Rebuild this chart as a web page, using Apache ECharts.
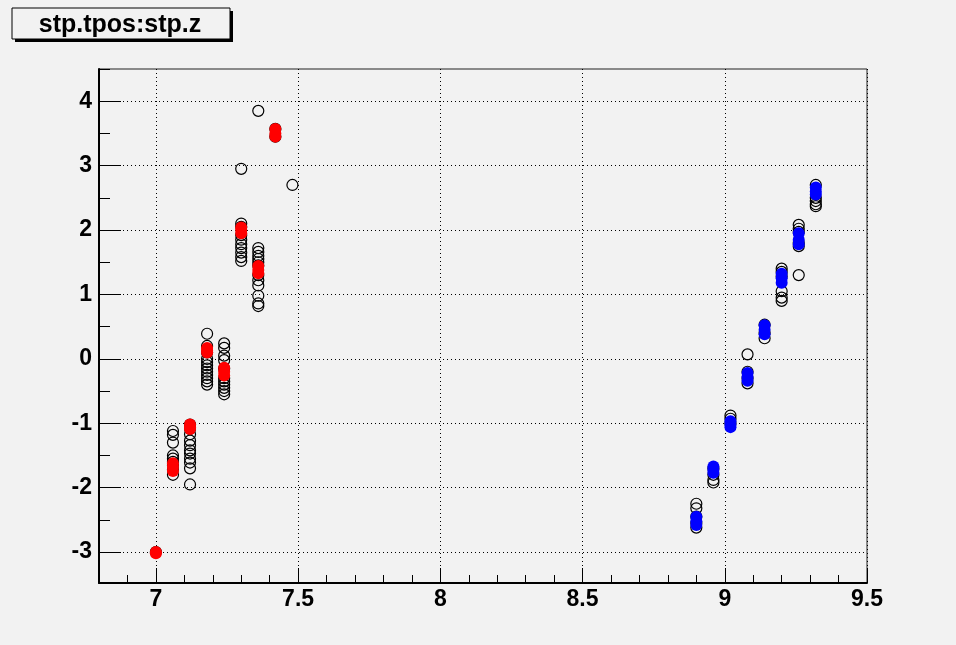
<!DOCTYPE html>
<html><head><meta charset="utf-8">
<script src="https://cdn.jsdelivr.net/npm/echarts@6/dist/echarts.min.js"></script>
<style>html,body{margin:0;padding:0;background:#f2f2f2}#c{width:956px;height:645px}</style>
</head><body><div id="c"></div>
<script>
// ---- data ----
const titleText = 'stp.tpos:stp.z';
const xTicks = [7, 7.5, 8, 8.5, 9, 9.5];
const yTicks = [-3, -2, -1, 0, 1, 2, 3, 4];
const xRange = [6.8, 9.5];
const yRange = [-3.48, 4.5];

const leftX = [7.00, 7.06, 7.12, 7.18, 7.24, 7.30, 7.36, 7.42, 7.48];
const leftOpenY = [
  [-3.0],
  [-1.12, -1.18, -1.30, -1.50, -1.55, -1.60, -1.65, -1.72, -1.80],
  [-1.02, -1.09, -1.17, -1.27, -1.34, -1.42, -1.47, -1.55, -1.61, -1.70, -1.95],
  [0.39, 0.20, 0.10, 0.0, -0.05, -0.10, -0.15, -0.20, -0.25, -0.30, -0.35, -0.40],
  [0.24, 0.17, 0.05, -0.02, -0.15, -0.30, -0.35, -0.40, -0.45, -0.50, -0.55],
  [2.95, 2.10, 2.05, 1.92, 1.85, 1.78, 1.72, 1.65, 1.58, 1.52],
  [3.85, 1.72, 1.66, 1.60, 1.55, 1.50, 1.45, 1.30, 1.22, 1.14, 0.98, 0.86, 0.82],
  [3.57, 3.45],
  [2.70]
];
const leftRedY = [
  [-3.0, -3.02],
  [-1.62, -1.68, -1.74],
  [-1.02, -1.06, -1.09],
  [0.17, 0.13, 0.10],
  [-0.14, -0.20, -0.26],
  [2.04, 2.00, 1.95],
  [1.44, 1.38, 1.33],
  [3.57, 3.50, 3.45],
  []
];

const rightX = [8.90, 8.96, 9.02, 9.08, 9.14, 9.20, 9.26, 9.32];
const rightOpenY = [
  [-2.25, -2.32, -2.45, -2.55, -2.62],
  [-1.70, -1.80, -1.88, -1.92],
  [-0.88, -0.93, -1.00],
  [0.07, -0.20, -0.30, -0.38],
  [0.53, 0.40, 0.32],
  [1.40, 1.35, 1.28, 1.05, 0.95, 0.90],
  [2.08, 2.02, 1.97, 1.80, 1.75, 1.30],
  [2.70, 2.50, 2.45, 2.40, 2.37]
];
const rightBlueY = [
  [-2.45, -2.52, -2.58],
  [-1.67, -1.72, -1.77],
  [-0.97, -1.02, -1.06],
  [-0.22, -0.28, -0.34],
  [0.52, 0.45, 0.38],
  [1.32, 1.25, 1.18],
  [1.95, 1.85, 1.78],
  [2.66, 2.60, 2.55]
];

// ---- build ----
function pairs(xs, ys) {
  const out = [];
  xs.forEach((x, i) => ys[i].forEach(y => out.push([x, y])));
  return out;
}
const openPts = pairs(leftX, leftOpenY).concat(pairs(rightX, rightOpenY));
const redPts = pairs(leftX, leftRedY);
const bluePts = pairs(rightX, rightBlueY);

const xMinor = [];
for (let i = Math.round(xRange[0] * 10); i <= Math.round(xRange[1] * 10); i++) xMinor.push(i / 10);
const yMinor = [];
yTicks.forEach(v => { const m = v + 0.5; if (m >= yRange[0] && m <= yRange[1]) yMinor.push(m); });

const FONT = '"Liberation Sans", Arial, Helvetica, sans-serif';
const gridPos = { left: 99, top: 69, right: 89, bottom: 62 };
const dotted = { type: [1, 3], color: '#000', width: 1 };

const chart = echarts.init(document.getElementById('c'));
chart.setOption({
  animation: false,
  backgroundColor: '#f2f2f2',
  grid: [
    Object.assign({ show: true, borderColor: '#222', borderWidth: 1, backgroundColor: 'transparent', containLabel: false }, gridPos),
    Object.assign({ show: false, containLabel: false }, gridPos)
  ],
  xAxis: [
    {
      type: 'value', gridIndex: 0, min: xRange[0], max: xRange[1], position: 'bottom',
      axisLine: { show: true, onZero: false, lineStyle: { color: '#000', width: 2 } },
      axisTick: { show: true, inside: true, length: 15, customValues: xTicks, lineStyle: { color: '#000', width: 1 } },
      axisLabel: { show: true, customValues: xTicks, margin: 5, color: '#000', fontSize: 23, fontWeight: 'bold', fontFamily: FONT, formatter: v => String(v) },
      splitLine: { show: true, lineStyle: dotted }
    },
    {
      type: 'value', gridIndex: 1, min: xRange[0], max: xRange[1], position: 'bottom',
      axisLine: { show: false, onZero: false },
      axisTick: { show: true, inside: true, length: 8, customValues: xMinor, lineStyle: { color: '#000', width: 1 } },
      axisLabel: { show: false },
      splitLine: { show: false }
    }
  ],
  yAxis: [
    {
      type: 'value', gridIndex: 0, min: yRange[0], max: yRange[1], position: 'left',
      axisLine: { show: true, onZero: false, lineStyle: { color: '#000', width: 2 } },
      axisTick: { show: true, inside: true, length: 22, customValues: yTicks, lineStyle: { color: '#000', width: 1 } },
      axisLabel: { show: true, customValues: yTicks, margin: 7, color: '#000', fontSize: 23, fontWeight: 'bold', fontFamily: FONT, formatter: v => String(v) },
      splitLine: { show: true, lineStyle: dotted }
    },
    {
      type: 'value', gridIndex: 1, min: yRange[0], max: yRange[1], position: 'left',
      axisLine: { show: false, onZero: false },
      axisTick: { show: true, inside: true, length: 11, customValues: yMinor, lineStyle: { color: '#000', width: 1 } },
      axisLabel: { show: false },
      splitLine: { show: false }
    }
  ],
  series: [
    {
      type: 'scatter', xAxisIndex: 0, yAxisIndex: 0, data: openPts,
      symbol: 'circle', symbolSize: 11,
      itemStyle: { color: 'rgba(0,0,0,0)', borderColor: '#000', borderWidth: 1.2, opacity: 1 },
      emphasis: { disabled: true }, z: 3
    },
    {
      type: 'scatter', xAxisIndex: 0, yAxisIndex: 0, data: redPts,
      symbol: 'circle', symbolSize: 12,
      itemStyle: { color: '#ff0000', opacity: 1 },
      emphasis: { disabled: true }, z: 4
    },
    {
      type: 'scatter', xAxisIndex: 0, yAxisIndex: 0, data: bluePts,
      symbol: 'circle', symbolSize: 12,
      itemStyle: { color: '#0000ff', opacity: 1 },
      emphasis: { disabled: true }, z: 4
    }
  ],
  graphic: [
    { type: 'rect', shape: { x: 15, y: 11, width: 218, height: 31 }, style: { fill: '#000' }, z: 10 },
    { type: 'rect', shape: { x: 12, y: 8, width: 218, height: 31 }, style: { fill: '#f2f2f2', stroke: '#000', lineWidth: 1 }, z: 11 },
    { type: 'text', x: 120, y: 25, style: { text: titleText, fill: '#000', font: 'bold 25px ' + FONT, textAlign: 'center', textVerticalAlign: 'middle' }, z: 12 }
  ]
});
</script>
</body></html>
